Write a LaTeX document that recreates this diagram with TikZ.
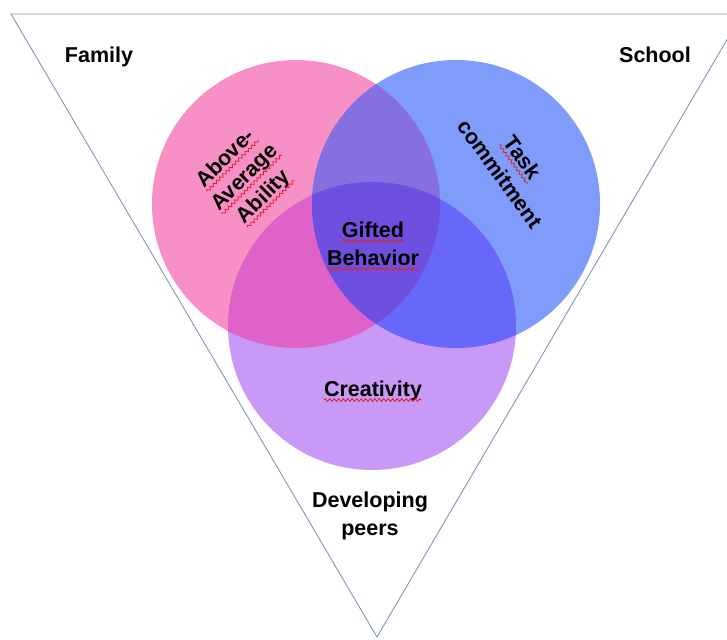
\documentclass[tikz,border=0pt]{standalone}
\usepackage{fontspec}
\setmainfont{Liberation Sans}
\usetikzlibrary{calc,decorations.pathmorphing}
\definecolor{cpink}{HTML}{F790C4}
\definecolor{cblue}{HTML}{7F9CFA}
\definecolor{cpurp}{HTML}{C899F7}
\definecolor{cpb}{HTML}{8670DF}
\definecolor{cpc}{HTML}{DE62C8}
\definecolor{cbc}{HTML}{6767FA}
\definecolor{call}{HTML}{6F4FDF}
\definecolor{triline}{HTML}{8096B8}
\definecolor{squigred}{HTML}{E0202A}
\begin{document}
\begin{tikzpicture}[x=1pt,y=-1pt,
  lbl/.style={font=\fontsize{21.5}{25}\selectfont\bfseries, inner sep=0pt, anchor=base},
  wave/.style={squigred, line width=0.8pt, decorate, decoration={snake, amplitude=1.4pt, segment length=4.5pt}},
  tri/.style={draw=triline, line width=0.9pt}]
\useasboundingbox (0,0) rectangle (727,639);
\coordinate (T1) at (11,14);
\coordinate (T2) at (742,14);
\coordinate (T3) at (377,637);
\coordinate (P) at (296,204);
\coordinate (B) at (456,204);
\coordinate (C) at (372,326);
\begin{scope}
\clip (0,0) rectangle (727,639);
\draw[tri] (T1) -- (T2) -- (T3) -- cycle;
\end{scope}
\fill[cpink] (P) circle[radius=144pt];
\fill[cblue] (B) circle[radius=144pt];
\fill[cpurp] (C) circle[radius=144pt];
\begin{scope}
\clip (P) circle[radius=144pt];
\fill[cpb] (B) circle[radius=144pt];
\fill[cpc] (C) circle[radius=144pt];
\end{scope}
\begin{scope}
\clip (B) circle[radius=144pt];
\fill[cbc] (C) circle[radius=144pt];
\end{scope}
\begin{scope}
\clip (P) circle[radius=144pt];
\clip (B) circle[radius=144pt];
\fill[call] (C) circle[radius=144pt];
\end{scope}
% labels
\node[lbl] (family) at (99,63) {Family};
\node[lbl] (school) at (655,63) {School};
\node[lbl] (dev) at (370,507) {Developing};
\node[lbl] (peers) at (370,535) {peers};
\node[lbl] (gifted) at (373,237) {Gifted};
\node[lbl] (behav) at (373,265) {Behavior};
\node[lbl] (creat) at (373,396) {Creativity};
\begin{scope}[shift={(244,177)}, rotate=45]
\node[lbl, transform shape] (above) at (0,-20) {Above-};
\node[lbl, transform shape] (average) at (0,7) {Average};
\node[lbl, transform shape] (ability) at (0,34) {Ability};
\end{scope}
\begin{scope}[shift={(511,166)}, rotate=-54]
\node[lbl, transform shape] (task) at (0,-7) {Task};
\node[lbl, transform shape] (commit) at (0,21) {commitment};
\end{scope}
% spell-check squiggles
\foreach \n in {gifted,behav,creat,above,average,ability,task}{
  \draw[wave] ($(\n.base west)!4pt!-90:(\n.base east)$) -- ($(\n.base east)!4pt!90:(\n.base west)$);
}
\end{tikzpicture}
\end{document}
